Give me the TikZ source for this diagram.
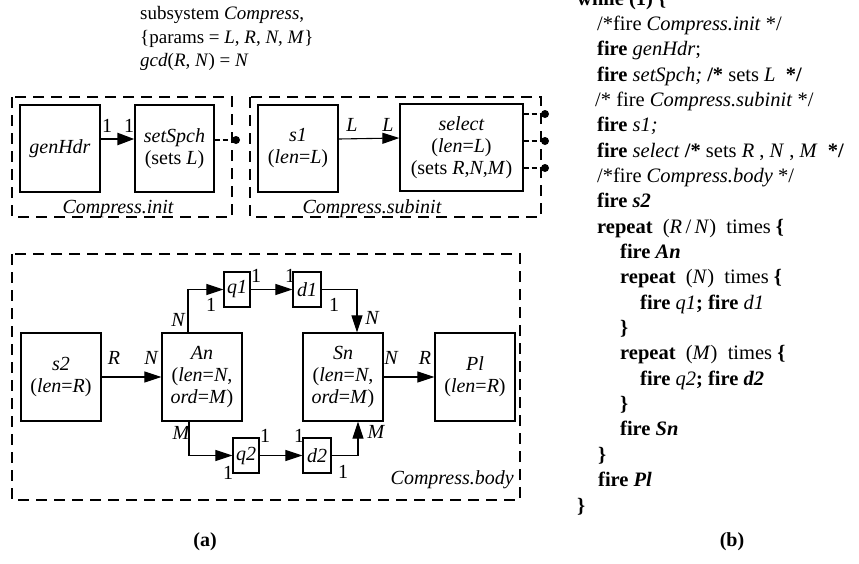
\documentclass[tikz,border=0pt]{standalone}
\usepackage{fontspec}
\setmainfont{Liberation Serif}
\usetikzlibrary{arrows.meta,calc}
\begin{document}
\begin{tikzpicture}[x=1pt,y=-1pt,
  box/.style={draw,line width=1.3pt,inner sep=0pt,align=center,font=\fontsize{20}{22}\selectfont},
  frame/.style={draw,line width=1.2pt,dash pattern=on 11pt off 7pt},
  lbl/.style={font=\fontsize{20}{20}\selectfont\itshape,inner sep=0pt},
  num/.style={font=\fontsize{20}{20}\selectfont,inner sep=0pt},
  arr/.style={line width=1.1pt,-{Triangle[length=17pt,width=11pt]}},
  thickarr/.style={line width=2.5pt,-{Triangle[length=17pt,width=12pt]}},
  dotline/.style={line width=1.1pt,dash pattern=on 5pt off 3pt},
  code/.style={anchor=base west,inner sep=0pt,font=\fontsize{20.5}{25}\selectfont},
  ttl/.style={anchor=base west,inner sep=0pt,font=\fontsize{19}{23}\selectfont}
]
\useasboundingbox (0,0) rectangle (859,563);

% title
\node[ttl] (t1) at (140,19) {subsystem \textit{Compress},};
\node[ttl] (t2) at (140,43) {\{params = \textit{L}, \textit{R}, \textit{N}, \textit{M}\}};
\node[ttl] (t3) at (140,66) {\textit{gcd}(\textit{R}, \textit{N}) = \textit{N}};

% frames
\draw[frame] (12,97) rectangle (232,217);
\draw[frame] (250,97) rectangle (541,217);
\draw[frame] (12,254) rectangle (520,500);

% init / subinit boxes
\node[box,minimum width=80pt,minimum height=87pt] (genHdr) at (60,148.5) {\textit{genHdr}};
\node[box,minimum width=79pt,minimum height=87pt] (setSpch) at (174.5,148.5) {\textit{setSpch}\\(sets \textit{L})};
\node[box,minimum width=80pt,minimum height=87pt] (s1) at (298,148.5) {\textit{s1}\\(\textit{len}=\textit{L})};
\node[box,minimum width=123pt,minimum height=87pt] (select) at (461.5,147.5) {\textit{select}\\(\textit{len}=\textit{L})\\(sets \textit{R},\textit{N},\textit{M})};

\draw[thickarr] ([yshift=9.5pt]genHdr.east) -- ([yshift=9.5pt]setSpch.west);
\node[num] (l1) at (107,126) {1};
\node[num] (l2) at (129,126) {1};
\draw[arr] ([yshift=9.5pt]s1.east) -- ([yshift=9.5pt]select.west);
\node[lbl] (l3) at (352,125) {L};
\node[lbl] (l4) at (388,125) {L};

\coordinate (dot0) at (236,140);
\coordinate (dot1) at (545,114);
\coordinate (dot2) at (545,141);
\coordinate (dot3) at (545,168);
\draw[dotline] ([yshift=8.5pt]setSpch.east) -- (dot0);
\draw[dotline] ([yshift=33.5pt]select.east) -- (dot1);
\draw[dotline] ([yshift=6.5pt]select.east) -- (dot2);
\draw[dotline] ([yshift=-20.5pt]select.east) -- (dot3);
\foreach \d in {dot0,dot1,dot2,dot3} \fill (\d) circle (4pt);

\node[lbl] (cinit) at (118,209) {Compress.init};
\node[lbl] (csub) at (372,209) {Compress.subinit};

% body
\node[box,minimum width=80pt,minimum height=88pt] (s2) at (61,377) {\textit{s2}\\(\textit{len}=\textit{R})};
\node[box,minimum width=80pt,minimum height=88pt] (An) at (202,377) {\textit{An}\\(\textit{len}=\textit{N},\\\textit{ord}=\textit{M})};
\node[box,minimum width=80pt,minimum height=88pt] (Sn) at (343,377) {\textit{Sn}\\(\textit{len}=\textit{N},\\\textit{ord}=\textit{M})};
\node[box,minimum width=80pt,minimum height=88pt] (Pl) at (475,377) {\textit{Pl}\\(\textit{len}=\textit{R})};
\node[box,minimum width=26pt,minimum height=35pt] (q1) at (237,289.5) {\textit{q1}};
\node[box,minimum width=28pt,minimum height=35pt] (d1) at (307,289.5) {\textit{d1}};
\node[box,minimum width=26pt,minimum height=35pt] (q2) at (246,455.5) {\textit{q2}};
\node[box,minimum width=28pt,minimum height=35pt] (d2) at (317,455.5) {\textit{d2}};

\draw[arr] (s2.east) -- (An.west);
\draw[arr] (Sn.east) -- (Pl.west);
\draw[arr] ([xshift=-14pt]An.north) |- (q1.west);
\draw[arr] (q1.east) -- (d1.west);
\draw[arr] (d1.east) -| ([xshift=14pt]Sn.north);
\draw[arr] ([xshift=-13pt]An.south) |- (q2.west);
\draw[arr] (q2.east) -- (d2.west);
\draw[arr] (d2.east) -| ([xshift=15pt]Sn.south);

\node[lbl] (b1) at (114,358) {R};
\node[lbl] (b2) at (151,358) {N};
\node[lbl] (b3) at (178,320) {N};
\node[num] (b4) at (211,305) {1};
\node[num] (b5) at (256,276) {1};
\node[num] (b6) at (290,276) {1};
\node[num] (b7) at (334,305) {1};
\node[lbl] (b8) at (372,318) {N};
\node[lbl] (b9) at (391,358) {N};
\node[lbl] (b10) at (425,358) {R};
\node[lbl] (b11) at (181,433) {M};
\node[num] (b12) at (228,473) {1};
\node[num] (b13) at (265,436) {1};
\node[num] (b14) at (299,436) {1};
\node[num] (b15) at (343,472) {1};
\node[lbl] (b16) at (376,432) {M};
\node[lbl,anchor=east] (cbody) at (514,480) {Compress.body};

\node[num,font=\fontsize{20}{20}\selectfont\bfseries] (capa) at (205,542) {(a)};
\node[num,font=\fontsize{20}{20}\selectfont\bfseries] (capb) at (732,542) {(b)};

% code
\node[code] (c0) at (577,5) {\textbf{while (1) \{}};
\node[code] (c1) at (597,30.35) {/*fire \textit{Compress.init} */};
\node[code] (c2) at (597,55.7) {\textbf{fire} \textit{genHdr};};
\node[code] (c3) at (597,81.05) {\textbf{fire} \textit{setSpch;} \textbf{/*} sets \textit{L}\ \ \textbf{*/}};
\node[code] (c4) at (595,106.4) {/* fire \textit{Compress.subinit} */};
\node[code] (c5) at (597,131.75) {\textbf{fire} \textit{s1;}};
\node[code] (c6) at (597,157.1) {\textbf{fire} \textit{select} \textbf{/*} sets \textit{R}\ ,\ \textit{N}\ ,\ \textit{M}\ \ \textbf{*/}};
\node[code] (c7) at (597,182.45) {/*fire \textit{Compress.body} */};
\node[code] (c8) at (597,207.8) {\textbf{fire} \textbf{\textit{s2}}};
\node[code] (c9) at (597,233.15) {\textbf{repeat} \ (\textit{R}\,/\,\textit{N}) \ times \textbf{\{}};
\node[code] (c10) at (620,258.5) {\textbf{fire} \textbf{\textit{An}}};
\node[code] (c11) at (620,283.85) {\textbf{repeat} \ (\textit{N}) \ times \textbf{\{}};
\node[code] (c12) at (640,309.2) {\textbf{fire} \textit{q1}\textbf{; fire} \textit{d1}};
\node[code] (c13) at (620,334.55) {\textbf{\}}};
\node[code] (c14) at (620,359.9) {\textbf{repeat} \ (\textit{M}) \ times \textbf{\{}};
\node[code] (c15) at (640,385.25) {\textbf{fire} \textit{q2}\textbf{; fire} \textbf{\textit{d2}}};
\node[code] (c16) at (620,410.6) {\textbf{\}}};
\node[code] (c17) at (620,435.95) {\textbf{fire} \textbf{\textit{Sn}}};
\node[code] (c18) at (598,461.3) {\textbf{\}}};
\node[code] (c19) at (598,486.65) {\textbf{fire} \textbf{\textit{Pl}}};
\node[code] (c20) at (577,512) {\textbf{\}}};
\end{tikzpicture}
\end{document}
